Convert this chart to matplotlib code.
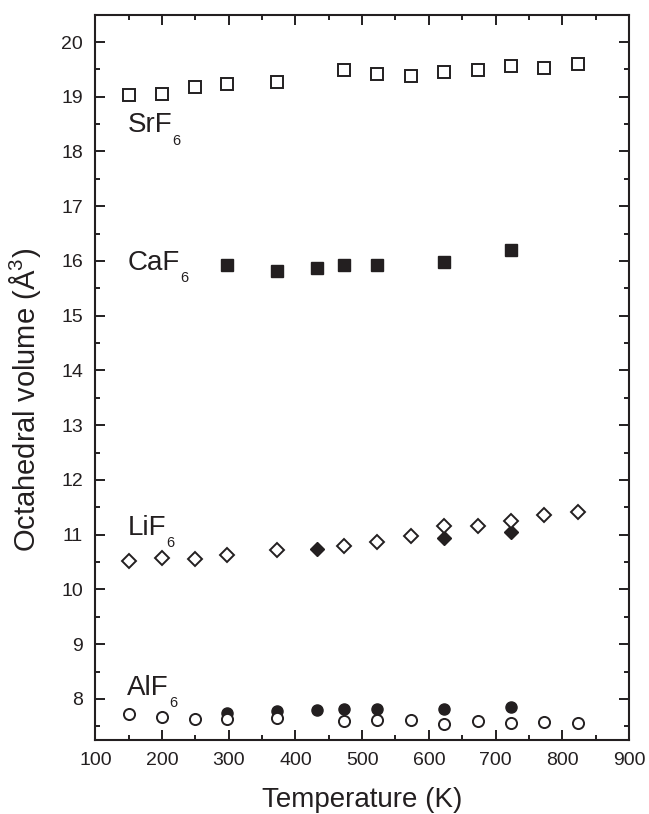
import matplotlib
matplotlib.use('Agg')
import matplotlib.pyplot as plt
from matplotlib.ticker import MultipleLocator

plt.rcParams['font.family'] = ['Liberation Sans', 'DejaVu Sans']
plt.rcParams['mathtext.default'] = 'regular'

# Temperatures (K)
temps_all = [150, 200, 250, 298, 373, 473, 523, 573, 623, 673, 723, 773, 823]
temps_hot = [298, 373, 433, 473, 523, 623, 723]
temps_li_filled = [433, 623, 723]

# Octahedral volumes (A^3)
srf6_open = [19.04, 19.05, 19.17, 19.23, 19.27, 19.49, 19.41, 19.38, 19.46, 19.49, 19.57, 19.52, 19.59]
caf6_filled = [15.92, 15.82, 15.87, 15.92, 15.92, 15.99, 16.20]
lif6_open = [10.52, 10.58, 10.56, 10.63, 10.72, 10.79, 10.87, 10.98, 11.16, 11.16, 11.25, 11.36, 11.41]
lif6_filled = [10.74, 10.93, 11.04]
alf6_open = [7.72, 7.67, 7.64, 7.63, 7.65, 7.60, 7.62, 7.61, 7.55, 7.59, 7.56, 7.58, 7.56]
alf6_filled = [7.75, 7.78, 7.79, 7.81, 7.81, 7.82, 7.85]

# group names, written as element + subscript
names = ['SrF', 'CaF', 'LiF', 'AlF']
name_y = [18.35, 15.84, 11.0, 8.07]

fig = plt.figure(figsize=(6.49, 8.14), dpi=100)
ax = fig.add_axes([0.147, 0.091, 0.822, 0.891])

ink = '#231f20'
# filled markers first, open markers (white face) drawn on top
ax.plot(temps_hot, caf6_filled, ls='none', marker='s', ms=8.5, mfc=ink, mec=ink)
ax.plot(temps_li_filled, lif6_filled, ls='none', marker='D', ms=7.5, mfc=ink, mec=ink)
ax.plot(temps_hot, alf6_filled, ls='none', marker='o', ms=8, mfc=ink, mec=ink)

ax.plot(temps_all, srf6_open, ls='none', marker='s', ms=8, mfc='white', mec=ink, mew=1.4)
ax.plot(temps_all, lif6_open, ls='none', marker='D', ms=7.5, mfc='white', mec=ink, mew=1.4)
ax.plot(temps_all, alf6_open, ls='none', marker='o', ms=8, mfc='white', mec=ink, mew=1.4)

for name, y in zip(names, name_y):
    t = ax.text(148, y, name, fontsize=20, color=ink, ha='left', va='baseline')
    ax.annotate('6', xy=(1, 0), xycoords=t, xytext=(0.5, -4.5),
                textcoords='offset points', fontsize=10.5, color=ink,
                ha='left', va='baseline')

ax.set_xlim(100, 900)
ax.set_ylim(7.25, 20.5)
ax.xaxis.set_major_locator(MultipleLocator(100))
ax.xaxis.set_minor_locator(MultipleLocator(50))
ax.yaxis.set_major_locator(MultipleLocator(1))
ax.yaxis.set_minor_locator(MultipleLocator(0.5))

ax.tick_params(which='both', direction='in', top=True, right=True, width=1.4, color=ink)
ax.tick_params(which='major', length=7.5, labelsize=14, pad=9, labelcolor=ink)
ax.tick_params(which='minor', length=3.8)
for s in ax.spines.values():
    s.set_linewidth(1.5)
    s.set_color(ink)

ax.set_xlabel('Temperature (K)', fontsize=20, labelpad=13, color=ink)
ax.set_ylabel('Octahedral volume (Å$^3$)', fontsize=21, color=ink)
ax.yaxis.set_label_coords(-0.098, 0.469)

fig.savefig('out.png', dpi=100)
